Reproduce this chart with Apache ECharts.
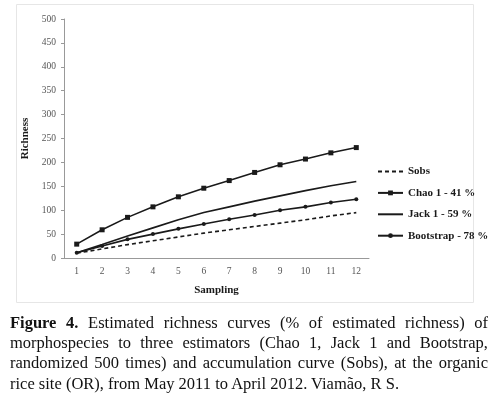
<!DOCTYPE html>
<html>
<head>
<meta charset="utf-8">
<script src="https://cdn.jsdelivr.net/npm/echarts@6/dist/echarts.min.js"></script>
<style>
  html, body { margin: 0; padding: 0; background: #fff; }
  #wrap { position: relative; width: 500px; height: 394px; }
  #chart { position: absolute; left: 0; top: 0; width: 500px; height: 394px; }
  #caption {
    position: absolute; left: 10px; top: 313px; width: 478px;
    font-family: "Liberation Serif", "DejaVu Serif", serif;
    font-size: 16.5px; line-height: 20.2px; color: #111;
    text-align: justify;
  }
</style>
</head>
<body>
<div id="wrap">
  <div id="chart"></div>
  <div id="caption"><b>Figure 4.</b> Estimated richness curves (% of estimated richness) of morphospecies to three estimators (Chao 1, Jack 1 and Bootstrap, randomized 500 times) and accumulation curve (Sobs), at the organic rice site (OR), from May 2011 to April 2012. Viamão, R S.</div>
</div>
<script>
// sampling events
var samples = ['1', '2', '3', '4', '5', '6', '7', '8', '9', '10', '11', '12'];

// richness per estimator
var sobs      = [10, 19, 28, 36, 44, 52, 59, 66, 73, 80, 88, 95];
var chao1     = [29, 59, 85, 107, 128, 146, 162, 179, 195, 207, 220, 231];
var jack1     = [11, 28, 46, 63, 80, 95, 107, 119, 130, 141, 151, 160];
var bootstrap = [11, 25, 39, 50, 61, 71, 81, 90, 100, 107, 116, 123];

var serif = '"Liberation Serif", "DejaVu Serif", serif';
var ink = '#1a1a1a';

var chart = echarts.init(document.getElementById('chart'));

function lineSeries(name, data, opts) {
  return Object.assign({
    name: name,
    type: 'line',
    data: data,
    smooth: false,
    symbol: 'none',
    lineStyle: { color: ink, width: 1.6 },
    itemStyle: { color: ink },
    animation: false
  }, opts);
}

// legend entries without a marker get an invisible symbol
var noMark = { color: 'rgba(0,0,0,0)', borderWidth: 0 };

chart.setOption({
  animation: false,
  grid: { left: 64, right: 131, top: 19, bottom: 136 },
  // light frame around the plot area, like the pasted figure
  graphic: [{
    type: 'rect',
    shape: { x: 16.5, y: 4.5, width: 457, height: 298 },
    style: { fill: 'none', stroke: '#e6e6e6', lineWidth: 1 },
    silent: true
  }],
  legend: {
    orient: 'vertical',
    left: 372,
    top: 161,
    itemWidth: 25,
    itemHeight: 6,
    itemGap: 10.4,
    textStyle: { fontFamily: serif, fontWeight: 'bold', fontSize: 11, color: ink },
    data: [
      { name: 'Sobs', itemStyle: noMark },
      { name: 'Chao 1 - 41 %' },
      { name: 'Jack 1 - 59 %', itemStyle: noMark },
      { name: 'Bootstrap - 78 %' }
    ]
  },
  xAxis: {
    type: 'category',
    data: samples,
    boundaryGap: true,
    name: 'Sampling',
    nameLocation: 'middle',
    nameGap: 27,
    nameTextStyle: { fontFamily: serif, fontWeight: 'bold', fontSize: 11, color: ink },
    axisLine: { lineStyle: { color: '#999', width: 1 } },
    axisTick: { show: false },
    axisLabel: { fontFamily: serif, fontSize: 9.5, color: '#555', margin: 8 }
  },
  yAxis: {
    type: 'value',
    min: 0,
    max: 500,
    interval: 50,
    name: 'Richness',
    nameLocation: 'middle',
    nameGap: 33,
    nameTextStyle: { fontFamily: serif, fontWeight: 'bold', fontSize: 11, color: ink },
    axisLine: { show: true, lineStyle: { color: '#999', width: 1 } },
    axisTick: { show: true, length: 3, lineStyle: { color: '#999' } },
    splitLine: { show: false },
    axisLabel: { fontFamily: serif, fontSize: 9.5, color: '#555', margin: 8 }
  },
  series: [
    lineSeries('Sobs', sobs, { lineStyle: { color: ink, width: 1.6, type: [4, 3] } }),
    lineSeries('Chao 1 - 41 %', chao1, { symbol: 'rect', symbolSize: 5 }),
    lineSeries('Jack 1 - 59 %', jack1),
    lineSeries('Bootstrap - 78 %', bootstrap, { symbol: 'circle', symbolSize: 4 })
  ]
});
</script>
</body>
</html>
